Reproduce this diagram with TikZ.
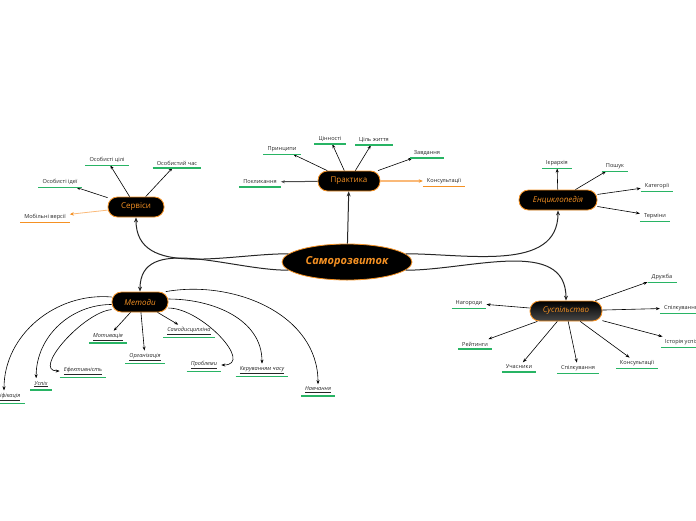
\documentclass[tikz,border=0pt]{standalone}
\usepackage{fontspec}
\setmainfont{Open Sans}
\usetikzlibrary{arrows.meta,shapes.geometric}
\definecolor{org}{RGB}{245,145,35}
\definecolor{lorg}{RGB}{250,185,120}
\definecolor{grn}{RGB}{40,180,100}
\begin{document}
\begin{tikzpicture}[x=1pt,y=-1pt,
  hub/.style={draw=org,line width=0.8pt,fill=black,text=org,rounded corners=9.5pt,
    minimum height=20pt,inner xsep=5pt,font=\fontsize{8}{9}\selectfont},
  leaf/.style={inner xsep=4pt,inner ysep=2.5pt,text=black!85,font=\fontsize{5.6}{6}\selectfont},
  mleaf/.style={leaf,font=\fontsize{5.6}{6}\selectfont\itshape},
  ul/.style={draw=grn,line width=1.6pt},
  oul/.style={draw=org,line width=1.6pt},
  main/.style={line width=1pt,draw=black!85,-{Stealth[length=5pt,width=4pt]}},
  arr/.style={line width=0.6pt,draw=black,-{Stealth[length=4pt,width=3pt]}},
  oarr/.style={line width=1.1pt,draw=lorg,-{Stealth[length=4pt,width=3.5pt,color=org]}},
]
\useasboundingbox (0,0) rectangle (696,520);

% central node
\node[ellipse,draw=org,line width=0.8pt,fill=black,text=org,minimum width=130pt,minimum height=36pt,
  font=\fontsize{11}{12}\selectfont\bfseries\itshape] (c) at (347,262) {Саморозвиток};

% hubs
\node[hub,minimum width=62pt] (prak) at (349,181) {Практика};
\node[hub,minimum width=56pt] (serv) at (136,207) {Сервіси};
\node[hub,minimum width=78pt,font=\fontsize{8}{9}\selectfont\itshape] (enc) at (558,200) {Енциклопедія};
\node[hub,minimum width=56pt,font=\fontsize{8}{9}\selectfont\itshape] (met) at (140,302) {Методи};
\node[hub,minimum width=72pt,fill=none,top color=black!100,bottom color=black!72,font=\fontsize{8}{9}\selectfont\itshape] (susp) at (566,311) {Суспільство};

% main connectors
\draw[main] (c) -- (prak);
\draw[main] (c.172) to[out=180,in=-90] (serv.south);
\draw[main] (c.188) to[out=180,in=90] (met.north);
\draw[main] (c.8) to[out=0,in=-90] (enc.south);
\draw[main] (c.-8) to[out=0,in=90] (susp.north);

% Практика leaves
\node[leaf] (pk) at (260,182) {Покликання};
\node[leaf] (pr) at (282,149) {Принципи};
\node[leaf] (cn) at (330,139) {Цінності};
\node[leaf] (cz) at (374,140) {Ціль життя};
\node[leaf] (zv) at (427,153) {Завдання};
\node[leaf] (ks) at (444,181) {Консультації};
\draw[arr,line width=1pt,draw=black!70] (prak) -- (pk);
\draw[arr] (prak) -- (pr);
\draw[arr] (prak) -- (cn);
\draw[arr] (prak) -- (cz);
\draw[arr] (prak) -- (zv);
\draw[oarr] (prak) -- (ks);

% Сервіси leaves
\node[leaf] (oi) at (60,182) {Особисті ідеї};
\node[leaf] (oc) at (107,160) {Особисті цілі};
\node[leaf] (och) at (177,163) {Особистий час};
\node[leaf] (mv) at (45,217) {Мобільні версії};
\draw[arr] (serv) -- (oi);
\draw[arr] (serv) -- (oc);
\draw[arr] (serv) -- (och);
\draw[oarr,line width=0.8pt] (serv) -- (mv);

% Енциклопедія leaves
\node[leaf] (ie) at (557,163) {Ієрархія};
\node[leaf] (po) at (615,166) {Пошук};
\node[leaf] (ka) at (657,186) {Категорії};
\node[leaf] (te) at (655,216) {Терміни};
\draw[arr] (enc) -- (ie);
\draw[arr] (enc) -- (po);
\draw[arr] (enc) -- (ka);
\draw[arr] (enc) -- (te);

% Суспільство leaves
\node[leaf] (ng) at (469,303) {Нагороди};
\node[leaf] (rj) at (475,344) {Рейтинги};
\node[leaf] (uc) at (519,367) {Учасники};
\node[leaf] (sp) at (578,368) {Спілкування};
\node[leaf] (ko) at (637,363) {Консультації};
\node[leaf] (iu) at (683,342) {Історія успіху};
\node[leaf] (sp2) at (681,308) {Спілкування};
\node[leaf] (dr) at (662,277) {Дружба};
\draw[arr] (susp) -- (ng);
\draw[arr] (susp) -- (rj);
\draw[arr] (susp) -- (uc);
\draw[arr] (susp) -- (sp);
\draw[arr] (susp) -- (ko);
\draw[arr] (susp) -- (iu);
\draw[arr] (susp) -- (sp2);
\draw[arr] (susp) -- (dr);

% Методи leaves
\node[mleaf] (mo) at (108,337) {\underline{Мотивація}};
\node[mleaf] (or) at (145,357) {\underline{Організація}};
\node[mleaf] (sd) at (189,331) {\underline{Самодисципліна}};
\node[mleaf] (ef) at (83,371) {\underline{Ефективність}};
\node[mleaf] (us) at (41,384) {\underline{Успіх}};
\node[mleaf] (gm) at (4,397) {\underline{Гейміфікація}};
\node[mleaf] (pb) at (204,365) {\underline{Проблеми}};
\node[mleaf] (kc) at (262,370) {\underline{Керуванням часу}};
\node[mleaf] (nv) at (318,390) {\underline{Навчання}};
\draw[arr] (met) -- (mo);
\draw[arr] (met) -- (or);
\draw[arr] (met) -- (sd);
\draw[arr] (met.170) to[out=175,in=90,looseness=1] (gm.north);
\draw[arr] (met.185) to[out=180,in=90,looseness=1] (us.130);
\draw[arr] (met.195) to[out=185,in=180,looseness=0.9] (ef.west);
\draw[arr] (met.-12) to[out=0,in=0,looseness=1.1] (pb.east);
\draw[arr] (met.6) to[out=0,in=90,looseness=1] (kc.north);
\draw[arr] (met.22) to[out=10,in=90,looseness=1] (nv.north);

% underlines
\foreach \n in {pk,pr,cn,cz,zv,oi,oc,och,ie,po,ka,te,ng,rj,uc,sp,ko,iu,sp2,dr,mo,or,sd,ef,us,gm,pb,kc,nv}
  \draw[ul] (\n.south west) -- (\n.south east);
\foreach \n in {ks,mv}
  \draw[oul] (\n.south west) -- (\n.south east);
\end{tikzpicture}
\end{document}
